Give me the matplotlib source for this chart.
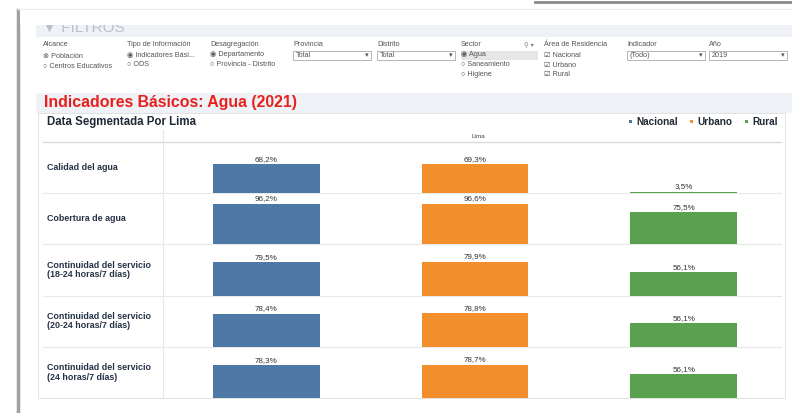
import matplotlib.pyplot as plt
from matplotlib.patches import Rectangle
from matplotlib.lines import Line2D

plt.rcParams['font.family'] = ['Liberation Sans', 'DejaVu Sans']

# data
indicators = ["Calidad del agua", "Cobertura de agua",
              "Continuidad del servicio\n(18-24 horas/7 días)",
              "Continuidad del servicio\n(20-24 horas/7 días)",
              "Continuidad del servicio\n(24 horas/7 días)"]
areas = ["Nacional", "Urbano", "Rural"]
nacional = [68.2, 96.2, 79.5, 78.4, 78.3]
urbano = [69.3, 96.6, 79.9, 78.8, 78.7]
rural = [3.5, 75.5, 56.1, 56.1, 56.1]
colors = ["#4e79a7", "#f28e2b", "#59a14f"]

W, H = 792, 413
fig = plt.figure(figsize=(W / 100, H / 100), dpi=100)


def fx(px):
    return px / W


def fy(py):
    return 1 - py / H


def box(x0, y0, x1, y1, **kw):
    fig.patches.append(Rectangle((fx(x0), fy(y1)), fx(x1 - x0), (y1 - y0) / H,
                                 transform=fig.transFigure, **kw))


def hline(x0, x1, y, color="#e4e4e4", lw=0.8):
    fig.lines.append(Line2D([fx(x0), fx(x1)], [fy(y), fy(y)],
                            transform=fig.transFigure, color=color, lw=lw))


def vline(x, y0, y1, color="#e4e4e4", lw=0.8):
    fig.lines.append(Line2D([fx(x), fx(x)], [fy(y0), fy(y1)],
                            transform=fig.transFigure, color=color, lw=lw))


def txt(x, y, s, **kw):
    kw.setdefault("va", "center")
    fig.text(fx(x), fy(y), s, **kw)


# frame / background
box(36, 25, 792, 37, color="#eef1f5", lw=0)
txt(42, 28, "▼ FILTROS", fontsize=11, color="#b8c0cb")
box(20, 10, 792, 25, color="white", lw=0, zorder=3.5)
vline(18, 10, 413, color="#a0a0a0", lw=2.5)
hline(18, 792, 9, color="#ececec", lw=1)
hline(535, 792, 2, color="#8a8a8a", lw=2)

# filters
ft = dict(fontsize=5.2, color="#555555")
heads = [(43, "Alcance"), (127, "Tipo de Información"), (210, "Desagregación"),
         (293, "Provincia"), (377, "Distrito"), (461, "Sector"),
         (544, "Área de Residencia"), (627, "Indicador"), (709, "Año")]
for x, s in heads:
    txt(x, 45, s, **ft)
txt(524, 45, "⚲ ▾", family=["DejaVu Sans"], fontsize=4.5, color="#777777")
opts = [(43, 56, "⊗ Población"), (43, 66, "○ Centros Educativos"),
        (127, 55, "◉ Indicadores Bási..."), (127, 65, "○ ODS"),
        (210, 55, "◉ Departamento"), (210, 65, "○ Provincia - Distrito"),
        (461, 55, "◉ Agua"), (461, 65, "○ Saneamiento"), (461, 74, "○ Higiene"),
        (544, 55, "☑ Nacional"), (544, 65, "☑ Urbano"), (544, 74, "☑ Rural")]
box(461, 51, 538, 60, color="#e6e6e6", lw=0)
for x, y, s in opts:
    txt(x, y, s, **ft)
for x0, s in [(293, "Total"), (377, "Total"), (627, "(Todo)"), (709, "2019")]:
    box(x0, 51, x0 + 78, 60, facecolor="white", edgecolor="#9a9a9a", lw=0.5)
    txt(x0 + 3, 55.5, s, **ft)
    txt(x0 + 72, 55.5, "▾", **ft)

# title band
box(36, 93, 792, 113, color="#eef1f5", lw=0)
txt(44, 103, "Indicadores Básicos: Agua (2021)", fontsize=11.4,
    fontweight="bold", color="#e8201c")

# chart panel
box(38, 113, 785, 398, facecolor="white", edgecolor="#dcdcdc", lw=0.6)
txt(47, 122, "Data Segmentada Por Lima", fontsize=8.3, fontweight="bold",
    color="#1f2a36")
for lx, name, c in zip([630, 691, 746], areas, colors):
    box(lx - 1.5, 120, lx + 1.5, 123, color=c, lw=0)
    txt(lx + 6, 121.5, name, fontsize=7.2, fontweight="bold", color="#1f2a36")
txt(478, 137, "Lima", fontsize=4.6, color="#444444", ha="center")
hline(43, 781, 142, color="#dadada", lw=1)
vline(163, 130, 398, color="#e6e6e6")

row_top, row_h = 142, 51.2
pane_l, pane_r = 162, 788
values = list(zip(nacional, urbano, rural))
for i, (name, vals) in enumerate(zip(indicators, values)):
    top = row_top + i * row_h
    bot = top + row_h
    ax = fig.add_axes([fx(pane_l), fy(bot), fx(pane_r - pane_l), row_h / H])
    ax.set_zorder(5)
    ax.patch.set_visible(False)
    ax.set_xlim(-0.5, 2.5)
    ax.set_ylim(0, 121)
    ax.axis("off")
    bars = ax.bar(range(3), vals, width=0.51, color=colors, linewidth=0)
    for b, v in zip(bars, vals):
        ax.text(b.get_x() + b.get_width() / 2, v + 3,
                f"{v:.1f}%".replace(".", ","), ha="center", va="bottom",
                fontsize=5.8, color="#333333", clip_on=False)
    txt(47, top + row_h / 2, name,
        fontsize=6.4, fontweight="bold", color="#243247", linespacing=1.05)
    if i < len(indicators) - 1:
        hline(43, 781, bot, color="#e8e8e8")

fig.savefig("out.png", dpi=100, facecolor="white")
